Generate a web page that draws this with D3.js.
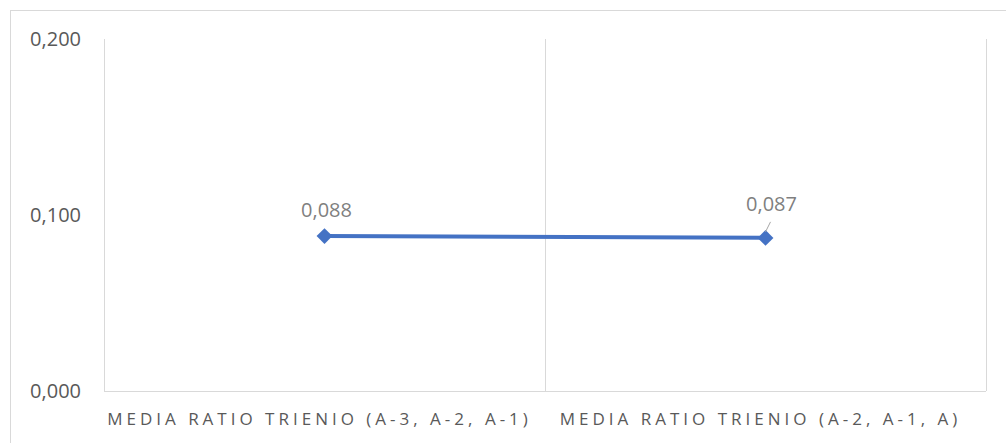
<!DOCTYPE html>
<html>
<head>
<meta charset="utf-8">
<script src="https://cdn.jsdelivr.net/npm/d3@7"></script>
<style>
  body { margin: 0; background: #fff; }
  svg { display: block; }
  text { font-family: "Open Sans", "Noto Sans", sans-serif; }
</style>
</head>
<body>
<svg id="chart" width="1006" height="443"></svg>
<script>
// chart values
const categories = ["MEDIA RATIO TRIENIO (A-3, A-2, A-1)", "MEDIA RATIO TRIENIO (A-2, A-1, A)"];
const values = [0.088, 0.087];
const valueLabels = ["0,088", "0,087"];
const yTicks = [0, 0.1, 0.2];

const svg = d3.select("#chart"),
    width = +svg.attr("width"),
    height = +svg.attr("height");

const margin = {top: 39, right: 20, bottom: 52, left: 104};

// outer chart border
svg.append("rect")
    .attr("x", 10.5).attr("y", 10.5)
    .attr("width", width).attr("height", height)
    .attr("fill", "none")
    .attr("stroke", "#d9d9d9");

const x = d3.scaleBand()
    .domain(categories)
    .range([margin.left, width - margin.right]);

const y = d3.scaleLinear()
    .domain([0, 0.2])
    .range([height - margin.bottom, margin.top]);

const fmt = d => d3.format(".3f")(d).replace(".", ",");

// vertical category gridlines
const bounds = [margin.left, ...categories.map(c => x(c) + x.bandwidth())];
svg.selectAll(".vgrid")
    .data(bounds)
    .enter().append("line")
    .attr("class", "vgrid")
    .attr("x1", d => d + 0.5).attr("x2", d => d + 0.5)
    .attr("y1", y(0.2)).attr("y2", y(0))
    .attr("stroke", "#d9d9d9")
    .attr("stroke-width", 1);

// x axis line
svg.append("line")
    .attr("x1", margin.left).attr("x2", width - margin.right)
    .attr("y1", y(0) + 0.5).attr("y2", y(0) + 0.5)
    .attr("stroke", "#d9d9d9");

// y tick labels
svg.selectAll(".ytick")
    .data(yTicks)
    .enter().append("text")
    .attr("class", "ytick")
    .attr("x", 81)
    .attr("y", d => y(d))
    .attr("dy", "0.35em")
    .attr("text-anchor", "end")
    .attr("fill", "#595959")
    .style("font-size", "20px")
    .text(fmt);

// category labels
svg.selectAll(".xlabel")
    .data(categories)
    .enter().append("text")
    .attr("class", "xlabel")
    .attr("x", d => x(d) + x.bandwidth() / 2 - 5)
    .attr("y", y(0) + 34)
    .attr("text-anchor", "middle")
    .attr("fill", "#595959")
    .style("font-size", "17px")
    .style("letter-spacing", "4px")
    .text(d => d);

const pts = categories.map((c, i) => ({cat: c, value: values[i], label: valueLabels[i]}));
const cx = d => x(d.cat) + x.bandwidth() / 2;

// series line
svg.append("path")
    .datum(pts)
    .attr("fill", "none")
    .attr("stroke", "#4472c4")
    .attr("stroke-width", 4)
    .attr("d", d3.line().x(cx).y(d => y(d.value)));

// diamond markers
svg.selectAll(".marker")
    .data(pts)
    .enter().append("path")
    .attr("class", "marker")
    .attr("transform", d => `translate(${cx(d)},${y(d.value)})`)
    .attr("d", d3.symbol().type(d3.symbolDiamond2).size(160))
    .attr("fill", "#4472c4");

// leader line for second label
svg.append("line")
    .attr("x1", cx(pts[1]) + 5).attr("y1", y(pts[1].value) - 16)
    .attr("x2", cx(pts[1])).attr("y2", y(pts[1].value) - 6)
    .attr("stroke", "#a6a6a6")
    .attr("stroke-width", 1);

// data labels
const labelOffset = [{dx: 2, dy: -19}, {dx: 6, dy: -27}];
svg.selectAll(".vlabel")
    .data(pts)
    .enter().append("text")
    .attr("class", "vlabel")
    .attr("x", (d, i) => cx(d) + labelOffset[i].dx)
    .attr("y", (d, i) => y(d.value) + labelOffset[i].dy)
    .attr("text-anchor", "middle")
    .attr("fill", "#7f7f7f")
    .style("font-size", "20px")
    .text(d => d.label);
</script>
</body>
</html>
